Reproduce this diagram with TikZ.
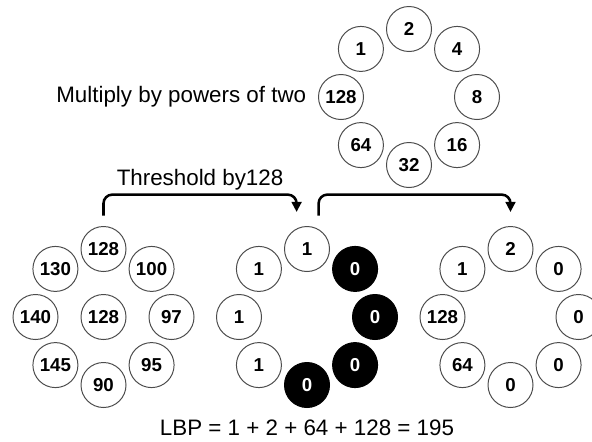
\documentclass[tikz,border=0pt]{standalone}
\usepackage{fontspec}
\setmainfont{Liberation Sans}
\usetikzlibrary{arrows.meta,positioning,calc}
\tikzset{
    % one LBP neighbourhood cell
    cell/.style={circle,draw=black!70,line width=0.7pt,fill=white,minimum size=1.125cm,inner sep=0pt,font=\fontsize{13.3}{16}\selectfont\bfseries},
    zero/.style={cell,draw=black,fill=black,text=white},
    lbl/.style={inner sep=0pt,font=\fontsize{15.9}{19}\selectfont},
    bracket/.style={-{Triangle[length=0.25cm,width=0.24cm]},line width=1.8pt,rounded corners=0.22cm}
}

\begin{document}
\begin{tikzpicture}[x=0.025cm,y=-0.025cm]
    \useasboundingbox (0,0) rectangle (592,441);
    % centres of the four neighbourhoods
    \coordinate (pwc) at (409,97);
    \coordinate (inc) at (103.5,317);
    \coordinate (thc) at (307,317);
    \coordinate (resc) at (510.5,317);
    % weights, clockwise from upper left
    \foreach \v [count=\i] in {1,2,4,8,16,32,64,128}
        \node[cell] (pw\i) at ($(pwc)+(180+45*\i:68)$) {\v};
    \node[lbl,left=0.29cm of pw8] (mul) {Multiply by powers of two};
    % input pixels
    \node[cell] (in0) at (inc) {128};
    \foreach \v [count=\i] in {130,128,100,97,95,90,145,140}
        \node[cell] (in\i) at ($(inc)+(180+45*\i:68)$) {\v};
    % thresholded bits
    \foreach \v/\s [count=\i] in {1/cell,1/cell,0/zero,0/zero,0/zero,0/zero,1/cell,1/cell}
        \node[\s] (th\i) at ($(thc)+(180+45*\i:68)$) {\v};
    % weighted bits
    \foreach \v [count=\i] in {1,2,0,0,0,0,64,128}
        \node[cell] (res\i) at ($(resc)+(180+45*\i:68)$) {\v};
    \node[lbl,below=0.285cm of th6] (sum) {LBP = 1 + 2 + 64 + 128 = 195};
    % brackets
    \draw[bracket] ([yshift=0.26cm]in2.north) -- ++(0,-21) -| node[lbl,pos=0.25,above=0.08cm] (thr) {Threshold by128} ([xshift=-0.26cm,yshift=0.35cm]th2.north);
    \draw[bracket] ([xshift=0.29cm,yshift=0.26cm]th2.north) -- ++(0,-21) -| ([yshift=0.35cm]res2.north);
\end{tikzpicture}
\end{document}
